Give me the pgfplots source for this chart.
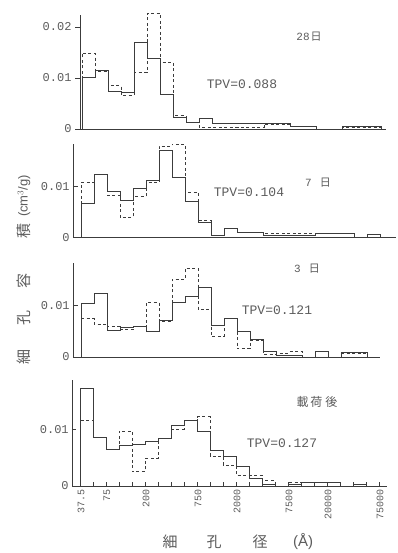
\documentclass[border=0pt]{standalone}
\usepackage{fontspec}
\setmainfont{Liberation Sans}
\setmonofont{Liberation Mono}
\newfontfamily\cjk{Noto Sans CJK JP}
\usepackage{pgfplots}
\usepackage{pgfplotstable}
\pgfplotsset{compat=1.18}
\definecolor{ink}{HTML}{3C3C3C}
\definecolor{txt}{HTML}{5C5C5C}

\pgfplotstableread{
x s d
0 0 0
0 0.0101 0.0149
1 0.0114 0.0114
2 0.0073 0.0085
3 0.0072 0.0066
4 0.0169 0.0111
5 0.0139 0.0227
6 0.0067 0.0131
7 0.0023 0.0026
8 0.0013 0.0013
9 0.0020 0.0004
10 0.0010 0.0004
11 0.0010 0.0004
12 0.0010 0.0004
13 0.0010 0.0004
14 0.0010 0.0010
15 0.0010 0.0010
16 0.0006 0.0006
17 0.0006 0.0006
18 0 0
19 0 0
20 0.0006 0.0004
21 0.0006 0.0004
22 0.0006 0.0004
23 0.0006 0.0004
23 0 0
}\pone

\pgfplotstableread{
x s d
0 0 0
0 0.0067 0.0107
1 0.0124 0.0124
2 0.0090 0.0083
3 0.0073 0.0039
4 0.0096 0.0080
5 0.0111 0.0107
6 0.0171 0.0179
7 0.0118 0.0183
8 0.0071 0.0088
9 0.0030 0.0034
10 0.0004 0.0004
11 0.0017 0.0017
12 0.0010 0.0010
13 0.0010 0.0010
14 0.0003 0.0007
15 0.0003 0.0007
16 0.0003 0.0007
17 0.0003 0.0007
18 0.0008 0.0008
19 0.0008 0.0008
20 0.0008 0.0008
21 0 0
22 0.0006 0.0006
23 0.0006 0.0006
23 0 0
}\ptwo

\pgfplotstableread{
x s d
0 0 0
0 0.0103 0.0074
1 0.0123 0.0063
2 0.0052 0.0059
3 0.0057 0.0053
4 0.0059 0.0059
5 0.0050 0.0105
6 0.0071 0.0069
7 0.0106 0.0150
8 0.0117 0.0171
9 0.0134 0.0092
10 0.0062 0.0040
11 0.0074 0.0074
12 0.0050 0.0016
13 0.0035 0.0032
14 0.0010 0.0006
15 0.0004 0.0008
16 0.0003 0.0010
17 0 0
18 0.0010 0.0010
19 0 0
20 0.0008 0.0008
21 0.0008 0.0008
22 0.0008 0.0008
22 0 0
}\pthree

\pgfplotstableread{
x s d
0 0 0
0 0.0172 0.0115
1 0.0085 0.0085
2 0.0065 0.0065
3 0.0071 0.0097
4 0.0074 0.0025
5 0.0078 0.0048
6 0.0084 0.0084
7 0.0106 0.0100
8 0.0115 0.0115
9 0.0096 0.0122
10 0.0063 0.0053
11 0.0053 0.0037
12 0.0035 0.0019
13 0.0013 0.0019
14 0.0003 0.0010
15 0 0
16 0.0003 0.0006
17 0.0006 0.0006
18 0.0006 0.0006
19 0.0006 0.0006
20 0 0
21 0.0003 0.0003
22 0.0003 0.0003
22 0 0
}\pfour

\pgfplotsset{
  hist/.style={
    x=13pt, clip=false, anchor=south west,
    axis x line=bottom, axis y line=left,
    axis line style={ink, line width=0.6pt, -},
    ymin=0,
    scaled y ticks=false,
    xtick=\empty,
    ytick={0,0.01}, yticklabels={0,0.01},
    yticklabel style={font=\ttfamily\fontsize{12}{12}\selectfont, text=txt},
    major tick length=5pt,
    tick style={ink, line width=0.6pt},
    ytick align=inside,
  },
  sol/.style={const plot mark left, no marks, ink, line width=0.8pt},
  das/.style={const plot mark left, no marks, ink, line width=0.7pt, dash pattern=on 3pt off 2.5pt},
}

\begin{document}
\begin{tikzpicture}
\path[use as bounding box] (0,0) rectangle (398pt,553pt);

% panel 1 : 28 days
\begin{axis}[hist, at={(80pt,424pt)}, y=5100pt, xmin=-0.15, xmax=23.4, ymax=0.0224,
  ytick={0,0.01,0.02}, yticklabels={0,0.01,0.02}, ytick align=outside]
\addplot[das] table[x=x,y=d]{\pone};
\addplot[sol] table[x=x,y=s]{\pone};
\end{axis}

% panel 2 : 7 days
\begin{axis}[hist, at={(73.2pt,315.7pt)}, y=5100pt, xmin=-0.6, xmax=24.2, ymax=0.0182]
\addplot[das] table[x=x,y=d]{\ptwo};
\addplot[sol] table[x=x,y=s]{\ptwo};
\end{axis}

% panel 3 : 3 days
\begin{axis}[hist, at={(73.2pt,196pt)}, y=5170pt, xmin=-0.6, xmax=23, ymax=0.0182]
\addplot[das] table[x=x,y=d]{\pthree};
\addplot[sol] table[x=x,y=s]{\pthree};
\end{axis}

% panel 4 : after loading
\begin{axis}[hist, at={(72.2pt,67pt)}, y=5670pt, xmin=-0.6, xmax=23.6, ymax=0.0187,
  xtick={0,...,23},
  xticklabels={37.5,,75,,,200,,,,750,,,2000,,,,7500,,,20000,,,,75000},
  xtick align=inside, major tick length=4pt,
  xticklabel style={rotate=90, anchor=east, font=\ttfamily\fontsize{10}{10}\selectfont, text=txt, yshift=-1pt}]
\addplot[das] table[x=x,y=d]{\pfour};
\addplot[sol] table[x=x,y=s]{\pfour};
\end{axis}

% annotations
\begin{scope}[every node/.style={text=txt, inner sep=0pt}]
\node at (309pt,516pt) {{\ttfamily\fontsize{11}{11}\selectfont 28}\hspace{1pt}{\cjk\fontsize{11}{11}\selectfont 日}};
\node at (242pt,469pt) {\ttfamily\fontsize{13}{13}\selectfont TPV=0.088};
\node at (318pt,370pt) {{\ttfamily\fontsize{11}{11}\selectfont 7}\hspace{8pt}{\cjk\fontsize{11}{11}\selectfont 日}};
\node at (249pt,361pt) {\ttfamily\fontsize{13}{13}\selectfont TPV=0.104};
\node at (307pt,284pt) {{\ttfamily\fontsize{11}{11}\selectfont 3}\hspace{8pt}{\cjk\fontsize{11}{11}\selectfont 日}};
\node at (277pt,243pt) {\ttfamily\fontsize{13}{13}\selectfont TPV=0.121};
\node at (317pt,151pt) {\cjk\fontsize{12}{12}\selectfont 載\hspace{2pt}荷\hspace{3pt}後};
\node at (282pt,110pt) {\ttfamily\fontsize{13}{13}\selectfont TPV=0.127};
% y label
\node[rotate=90] at (24pt,196pt) {\cjk\fontsize{15}{15}\selectfont 細};
\node[rotate=90] at (24pt,235pt) {\cjk\fontsize{15}{15}\selectfont 孔};
\node[rotate=90] at (24pt,272pt) {\cjk\fontsize{15}{15}\selectfont 容};
\node[rotate=90] at (24pt,322pt) {\cjk\fontsize{15}{15}\selectfont 積};
\node[rotate=90] at (24pt,357pt) {\fontsize{13}{13}\selectfont (cm$^3$/g)};
% x label
\node at (170pt,11pt) {\cjk\fontsize{15}{15}\selectfont 細};
\node at (214pt,11pt) {\cjk\fontsize{15}{15}\selectfont 孔};
\node at (260pt,11pt) {\cjk\fontsize{15}{15}\selectfont 径};
\node at (303pt,11pt) {\fontsize{15}{15}\selectfont (Å)};
\end{scope}
\end{tikzpicture}
\end{document}
